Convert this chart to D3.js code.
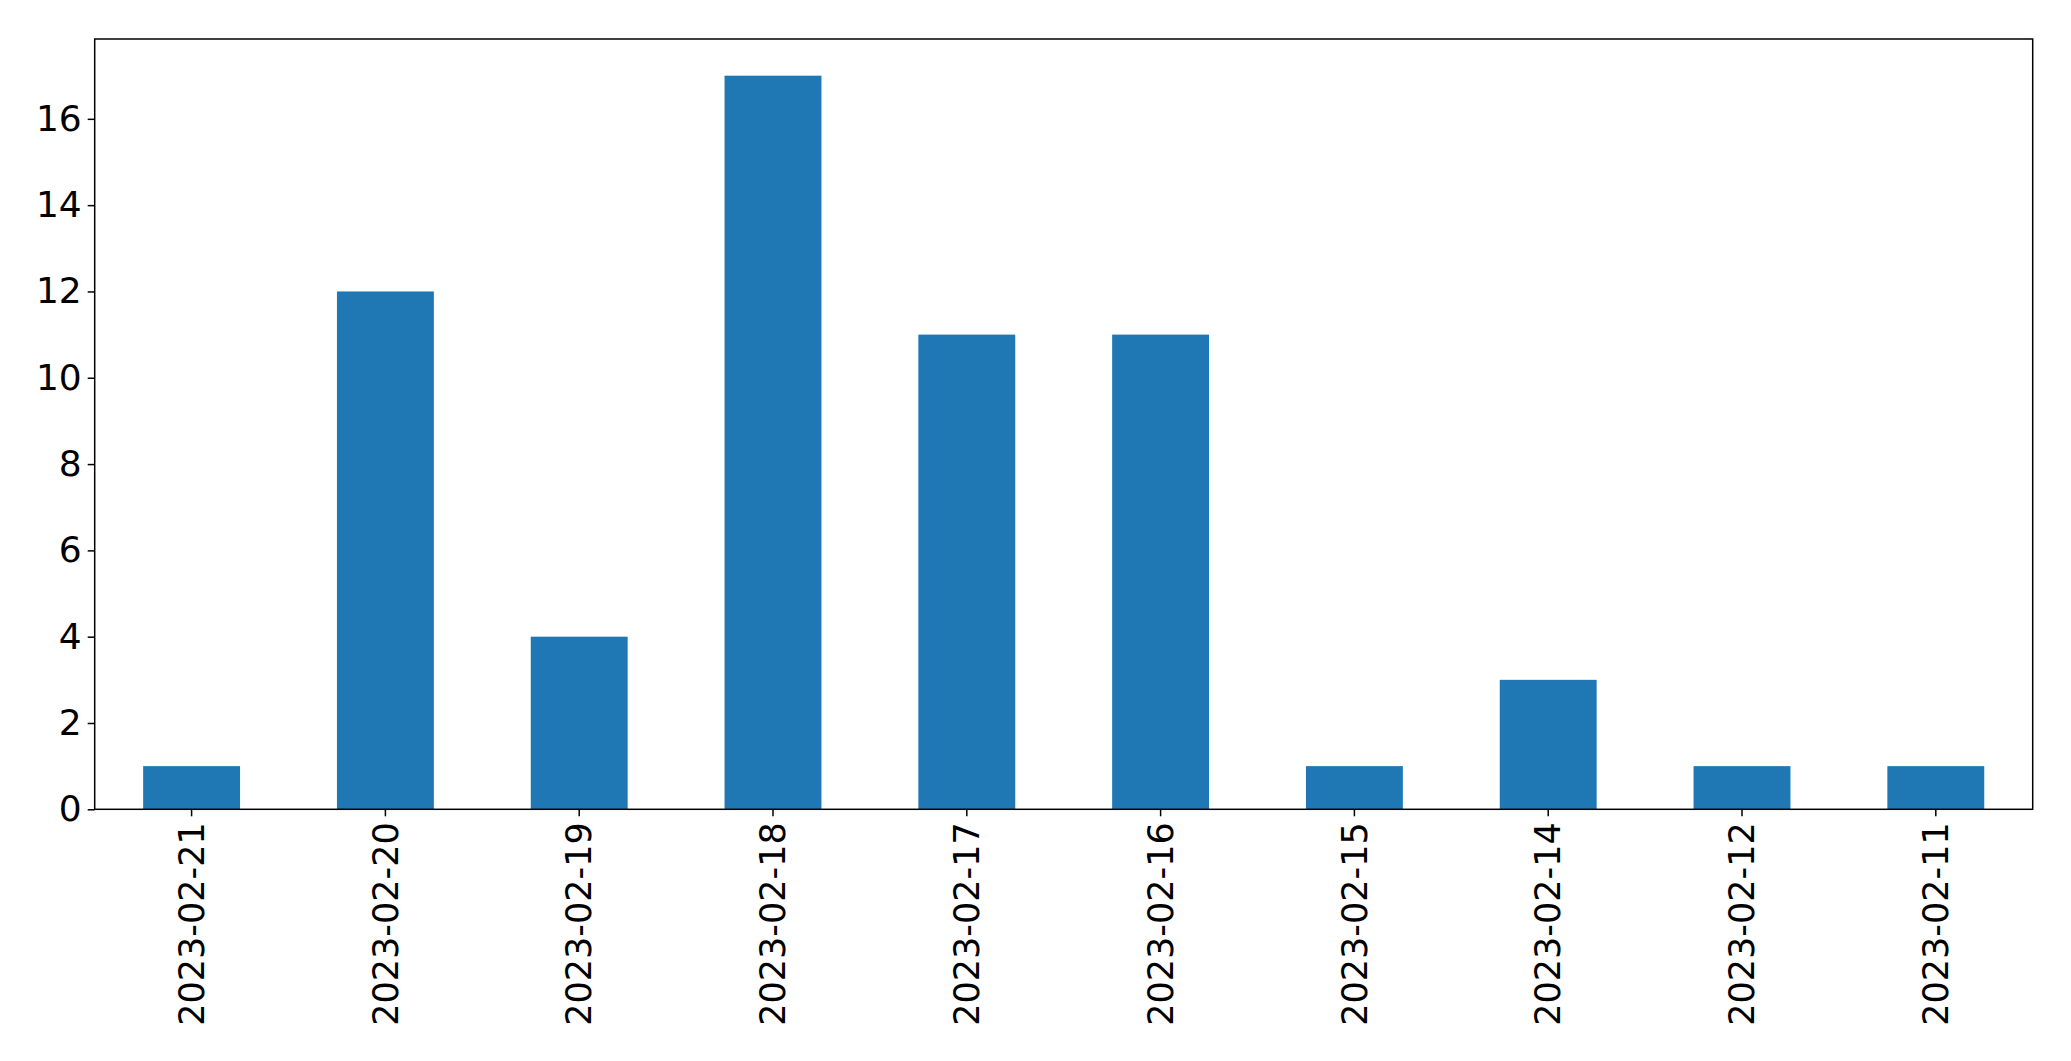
<!DOCTYPE html>
<html><head><meta charset="utf-8">
<script src="https://cdn.jsdelivr.net/npm/d3@7"></script>
<style>html,body{margin:0;padding:0;background:#fff;}</style>
</head><body>
<svg id="chart" width="2071" height="1061"></svg>
<script>
const categories = ["2023-02-21","2023-02-20","2023-02-19","2023-02-18","2023-02-17","2023-02-16","2023-02-15","2023-02-14","2023-02-12","2023-02-11"];
const values = [1,12,4,17,11,11,1,3,1,1];
const yTicks = [0,2,4,6,8,10,12,14,16];

const svg = d3.select("#chart");
const margin = {left: 94.7, top: 39, right: 2071-2032.7, bottom: 1061-809.3};
const W = 2071 - margin.left - margin.right;
const H = 1061 - margin.top - margin.bottom;
const g = svg.append("g").attr("transform", `translate(${margin.left},${margin.top})`);

const x = d3.scaleBand().domain(categories).range([0, W]).paddingInner(0.5).paddingOuter(0.25);
const y = d3.scaleLinear().domain([0, 17*1.05]).range([H, 0]);

g.selectAll("rect.bar").data(values).enter().append("rect")
  .attr("class","bar")
  .attr("x", (d,i) => x(categories[i]))
  .attr("width", x.bandwidth())
  .attr("y", d => y(d))
  .attr("height", d => H - y(d))
  .attr("fill", "#1f77b4");

const font = "DejaVu Sans, sans-serif";
const fs = 35;
const yAxis = g.append("g").call(d3.axisLeft(y).tickValues(yTicks).tickSize(7).tickPadding(6).tickFormat(d3.format("d")));
yAxis.select(".domain").remove();
yAxis.selectAll("text").attr("font-family", font).attr("font-size", 36).attr("fill","#000");
yAxis.selectAll("line").attr("stroke","#000").attr("stroke-width",1.5);

const xAxis = g.append("g").attr("transform", `translate(0,${H})`).call(d3.axisBottom(x).tickSize(7).tickPadding(8));
xAxis.select(".domain").remove();
xAxis.selectAll("line").attr("stroke","#000").attr("stroke-width",1.5);
xAxis.selectAll("text")
  .attr("font-family", font).attr("font-size", fs).attr("fill","#000")
  .attr("transform","rotate(-90)")
  .attr("text-anchor","end")
  .attr("x", -13).attr("y", 0).attr("dy","0.35em");

g.append("rect").attr("x",0).attr("y",0).attr("width",W).attr("height",H)
  .attr("fill","none").attr("stroke","#000").attr("stroke-width",1.5);
</script>
</body></html>
